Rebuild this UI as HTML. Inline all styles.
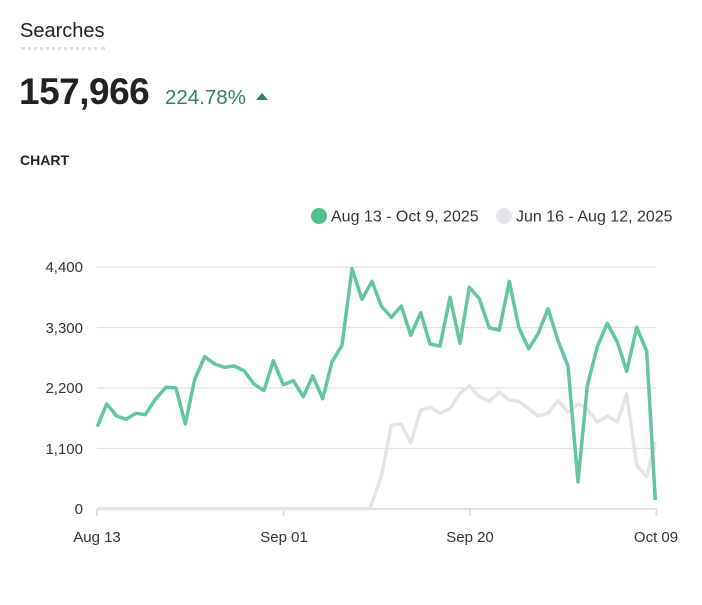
<!DOCTYPE html>
<html><head><style>
body{margin:0;background:#fff;width:702px;height:605px;overflow:hidden;font-family:"Liberation Sans",sans-serif;}
.t{position:absolute;white-space:nowrap;}
</style></head><body>
<div class="t" style="left:20px;top:20px;font-size:20px;color:#222;">Searches</div>
<div style="position:absolute;left:21px;top:47px;width:84px;height:0;border-top:3px dotted #dde0e4;"></div>
<div class="t" style="left:19px;top:71px;font-size:37px;font-weight:bold;color:#222;letter-spacing:-0.5px;">157,966</div>
<div class="t" style="left:165px;top:86px;font-size:20.5px;color:#2e8060;">224.78%</div>
<div style="position:absolute;left:256px;top:93px;width:0;height:0;border-left:6px solid transparent;border-right:6px solid transparent;border-bottom:7px solid #2e8060;"></div>
<div class="t" style="left:20px;top:152px;font-size:14px;font-weight:bold;color:#222;">CHART</div>
<svg width="702" height="605" style="position:absolute;left:0;top:0" font-family="Liberation Sans, sans-serif">
<circle cx="319" cy="216" r="8" fill="#4fbf8e"/>
<text x="331" y="221.5" font-size="16" fill="#333">Aug 13 - Oct 9, 2025</text>
<circle cx="504" cy="216" r="8" fill="#e3e4e8"/>
<text x="516" y="221.5" font-size="16" fill="#333">Jun 16 - Aug 12, 2025</text>
<g stroke="#e2e2e4" stroke-width="1.3">
<line x1="97" y1="267" x2="656" y2="267"/><line x1="97" y1="327.5" x2="656" y2="327.5"/><line x1="97" y1="388" x2="656" y2="388"/><line x1="97" y1="448.5" x2="656" y2="448.5"/>
</g>
<g stroke="#dfdfe3" stroke-width="2"><line x1="97" y1="509" x2="657" y2="509"/>
<line x1="97" y1="509" x2="97" y2="516"/><line x1="283.5" y1="509" x2="283.5" y2="516"/><line x1="470" y1="509" x2="470" y2="516"/><line x1="656.5" y1="509" x2="656.5" y2="516"/></g>
<g font-size="15" fill="#333" text-anchor="end">
<text x="83" y="272">4,400</text><text x="83" y="333">3,300</text><text x="83" y="393">2,200</text><text x="83" y="454">1,100</text><text x="83" y="514">0</text>
</g>
<g font-size="15" fill="#333" text-anchor="middle">
<text x="97" y="542">Aug 13</text><text x="284" y="542">Sep 01</text><text x="470" y="542">Sep 20</text><text x="656" y="542">Oct 09</text>
</g>
<polyline fill="none" stroke="#e3e4e8" stroke-width="3.5" stroke-linejoin="round" points="97,508.5 370,508.5 381.3,476.7 391.3,425.3 401.3,424 410.7,442.7 420.7,410 430,407.3 440,413.3 450,408.7 460,393.3 469.3,386 479.3,396.7 489.3,401.3 499.3,392 509.3,400 518.7,401.3 528.7,408.7 538,416 548,413.3 558,400.7 568,412 578,404 587.3,408.7 597.3,422 607.3,416 617.3,422 626.7,394 636.7,465.3 646.7,476.7 655.3,441.3"/>
<polyline fill="none" stroke="#63c69d" stroke-width="3.5" stroke-linejoin="round" points="97.3,426.7 106.7,404 116.7,416 126,419.3 136,413.3 145.3,414.7 155.3,399.3 166,387.3 176,388 185.3,424 194.7,379.3 204.7,356.7 214.7,364 224.7,367.3 234,366 244,370.7 254,384 264,390.7 273.3,360.7 283.3,384.7 293.3,380.7 303.3,396.7 312.7,376 322.7,398.7 332,362 342,345.3 352,268.7 362,299.3 372,281.3 381.3,306 391.3,317.3 401.3,306 410.7,335.3 420.7,312.7 430,344 440,346 450,297.3 460,343.3 469.3,287.3 479.3,298.7 489.3,328 499.3,330 509.3,281.3 518.7,327.3 528.7,348.7 538,334 548,308.7 558,340.7 568,366 578,482 587.3,386 597.3,346.7 607.3,323.3 617.3,342 626.7,371.3 636.7,327.3 646.7,351.3 655.3,500"/>
</svg>
</body></html>
